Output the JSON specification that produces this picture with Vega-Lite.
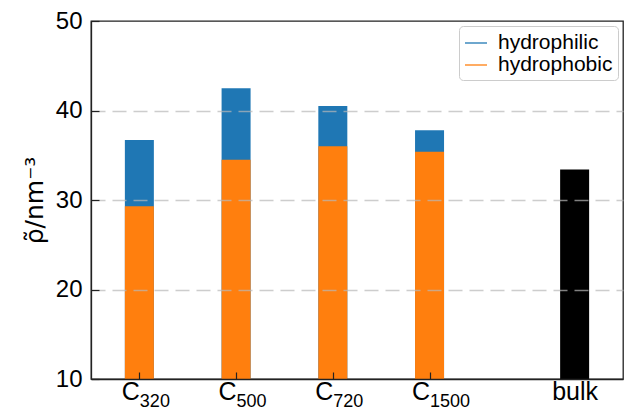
{
  "$schema": "https://vega.github.io/schema/vega-lite/v6.json",
  "width": 532,
  "height": 358,
  "autosize": "none",
  "padding": {"left": 91, "top": 21, "right": 2, "bottom": 31},
  "config": {
    "font": "Liberation Sans",
    "view": {"stroke": "#222222", "strokeWidth": 1.3},
    "axis": {"domainColor": "#222222", "domainWidth": 1.3, "tickColor": "#222222", "labelColor": "#000000", "titleColor": "#000000"}
  },
  "datasets": {
    "samples": [
      {"label": "C320", "pos": 0, "total": 36.7, "hydrophobic": 29.3},
      {"label": "C500", "pos": 1, "total": 42.5, "hydrophobic": 34.5},
      {"label": "C720", "pos": 2, "total": 40.5, "hydrophobic": 36.0},
      {"label": "C1500", "pos": 3, "total": 37.8, "hydrophobic": 35.4}
    ],
    "bulk": [
      {"label": "bulk", "pos": 4.5, "density": 33.4}
    ]
  },
  "resolve": {"axis": {"x": "independent"}},
  "layer": [
    {
      "data": {"name": "samples"},
      "mark": {"type": "bar", "size": 29},
      "encoding": {
        "x": {
          "field": "pos",
          "type": "quantitative",
          "scale": {"domain": [-0.5, 5], "nice": false, "zero": false, "padding": 0},
          "axis": {
            "orient": "bottom",
            "title": null,
            "values": [0, 1, 2, 3],
            "labelExpr": "'C'",
            "labelFontSize": 25,
            "labelAlign": "right",
            "labelDx": -8,
            "labelPadding": 7,
            "tickSize": -7,
            "tickWidth": 1.2,
            "grid": false,
            "zindex": 1
          }
        },
        "y": {
          "field": "total",
          "type": "quantitative",
          "scale": {"domain": [10, 50], "nice": false, "zero": false},
          "axis": {
            "title": "ρ̃/nm⁻³",
            "titleFont": "DejaVu Sans",
            "titleFontSize": 25,
            "titleFontWeight": "normal",
            "titlePadding": 8,
            "values": [10, 20, 30, 40, 50],
            "labelFontSize": 24,
            "labelPadding": 17,
            "tickSize": -8,
            "tickWidth": 1.2,
            "grid": true,
            "gridColor": "#b8b8b8",
            "gridDash": [14, 7],
            "gridWidth": 1.5,
            "gridOpacity": {"condition": {"test": "datum.value == 10 || datum.value == 50", "value": 0}, "value": 0.7},
            "zindex": 1
          }
        },
        "y2": {"datum": 10},
        "color": {
          "datum": "hydrophilic",
          "scale": {"domain": ["hydrophilic", "hydrophobic"], "range": ["#1f77b4", "#ff7f0e"]},
          "legend": {
            "title": null,
            "orient": "top-right",
            "offset": 5,
            "labelFontSize": 21,
            "labelColor": "#000000",
            "labelOffset": 10,
            "symbolType": "stroke",
            "symbolSize": 484,
            "symbolStrokeWidth": 1.3,
            "fillColor": "#ffffff",
            "strokeColor": "#cccccc",
            "cornerRadius": 4,
            "padding": 5,
            "rowPadding": 0,
            "zindex": 2,
            "encode": {
              "symbols": {"update": {"stroke": {"scale": "color", "field": "value"}, "fill": {"value": "transparent"}}}
            }
          }
        }
      }
    },
    {
      "data": {"name": "samples"},
      "mark": {"type": "bar", "size": 29},
      "encoding": {
        "x": {
          "field": "pos",
          "type": "quantitative",
          "axis": {
            "orient": "bottom",
            "title": null,
            "values": [0, 1, 2, 3],
            "labelExpr": "datum.value == 0 ? '320' : datum.value == 1 ? '500' : datum.value == 2 ? '720' : '1500'",
            "labelFontSize": 18,
            "labelAlign": "left",
            "labelDx": -8,
            "labelPadding": 13,
            "ticks": false,
            "domain": false,
            "grid": false
          }
        },
        "y": {"field": "hydrophobic", "type": "quantitative"},
        "y2": {"datum": 10},
        "color": {"datum": "hydrophobic"}
      }
    },
    {
      "data": {"name": "bulk"},
      "mark": {"type": "bar", "size": 29, "color": "#000000"},
      "encoding": {
        "x": {
          "field": "pos",
          "type": "quantitative",
          "axis": {
            "orient": "bottom",
            "title": null,
            "values": [4.5],
            "labelExpr": "'bulk'",
            "labelFontSize": 25,
            "labelPadding": 7,
            "tickSize": -7,
            "tickWidth": 1.2,
            "domain": false,
            "grid": false
          }
        },
        "y": {"field": "density", "type": "quantitative"},
        "y2": {"datum": 10}
      }
    }
  ]
}
